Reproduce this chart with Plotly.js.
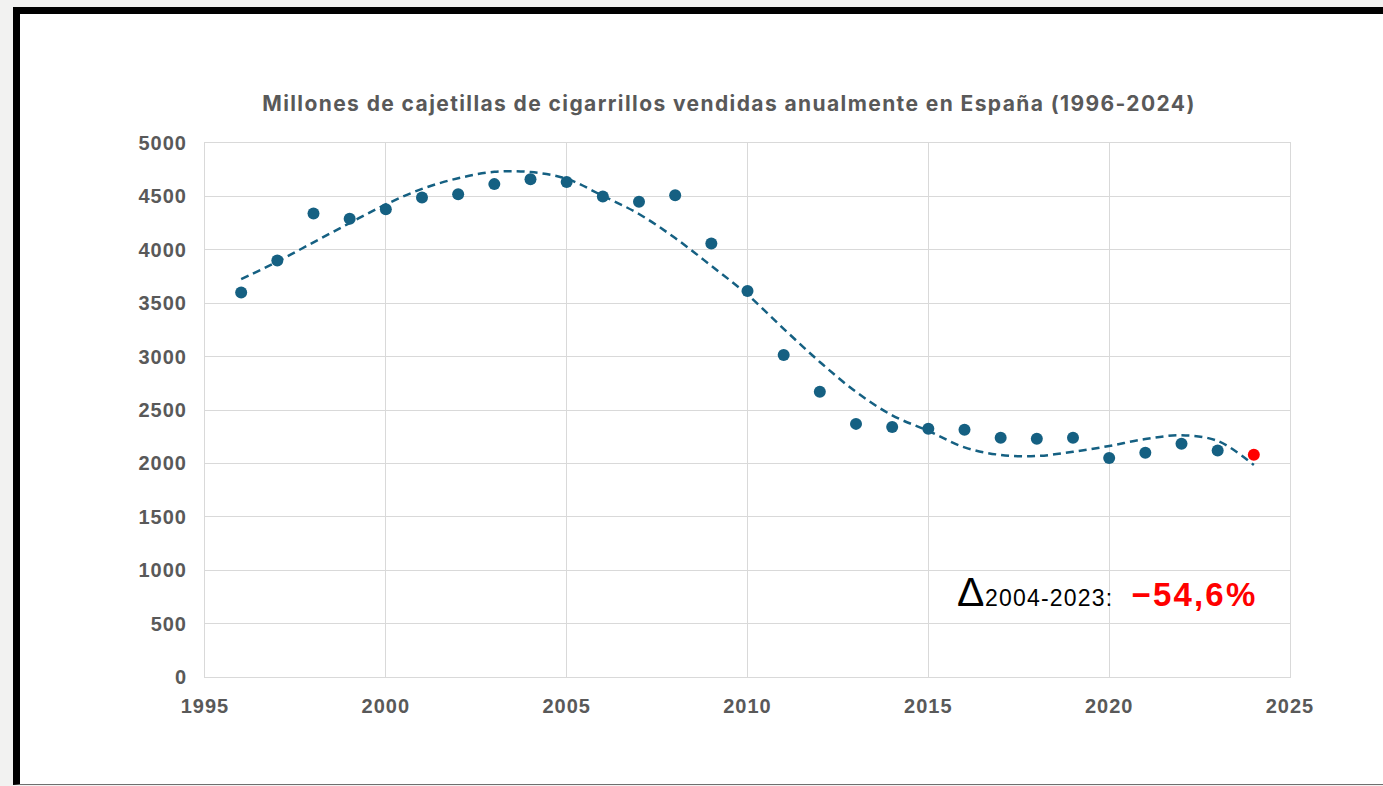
<!DOCTYPE html>
<html>
<head>
<meta charset="utf-8">
<script src="https://cdn.plot.ly/plotly-3.0.1.min.js"></script>
<style>
  html, body { margin: 0; padding: 0; background: #f2f2f1; width: 1383px; height: 786px; overflow: hidden; }
  #frame { position: absolute; left: 13px; top: 7px; width: 1370px; height: 778px; background: #ffffff;
           border-top: 7px solid #000; border-left: 7px solid #000; box-sizing: border-box; border-bottom: 1px solid #6f6f6f; }
  #chart { position: absolute; left: 0; top: 0; width: 1383px; height: 786px; }
  #chart .xtick text, #chart .ytick text { letter-spacing: 1px; }
  #chart .gtitle { letter-spacing: 1.4px; }
  #chart g.annotation[data-index="1"] text { letter-spacing: 1.2px; }
  #chart g.annotation[data-index="2"] text { letter-spacing: 2.2px; }
</style>
</head>
<body>
<div id="frame"></div>
<div id="chart"></div>
<script>
// Years and annual sales (millions of packs)
const years = [1996,1997,1998,1999,2000,2001,2002,2003,2004,2005,2006,2007,2008,2009,2010,
               2011,2012,2013,2014,2015,2016,2017,2018,2019,2020,2021,2022,2023];
const sales = [3600,3900,4340,4290,4380,4490,4520,4615,4660,4635,4500,4450,4510,4060,3615,
               3015,2670,2370,2340,2325,2315,2240,2230,2240,2050,2100,2185,2120];
// Latest year, highlighted
const lastYear = [2024];
const lastSales = [2080];
// Trend line, 1996-2024
const trendYears = [1996,1997,1998,1999,2000,2001,2002,2003,2004,2005,2006,2007,2008,2009,2010,
                    2011,2012,2013,2014,2015,2016,2017,2018,2019,2020,2021,2022,2023,2024];
const trendVals = [3725,3890,4070,4250,4425,4570,4670,4730,4728,4665,4505,4335,4110,3850,3580,
                   3260,2950,2670,2450,2305,2150,2079,2069,2109,2163,2228,2263,2210,1985];
// Tick labels
const xTicks = [1995,2000,2005,2010,2015,2020,2025];
const yTicks = [0,500,1000,1500,2000,2500,3000,3500,4000,4500,5000];

const titleText = 'Millones de cajetillas de cigarrillos vendidas anualmente en España (1996-2024)';
const deltaLabel = 'Δ';
const periodLabel = '2004-2023:';
const changeLabel = '\u221254,6%';

const teal = '#156082';
const grid = '#d9d9d9';
const tickCol = '#595959';

const traces = [
  { x: trendYears, y: trendVals, type: 'scatter', mode: 'lines',
    line: { color: teal, width: 2.5, dash: '8px,5px', shape: 'spline', smoothing: 1 },
    hoverinfo: 'skip', showlegend: false },
  { x: years, y: sales, type: 'scatter', mode: 'markers',
    marker: { color: teal, size: 12, line: { width: 0 } }, showlegend: false },
  { x: lastYear, y: lastSales, type: 'scatter', mode: 'markers',
    marker: { color: '#ff0000', size: 12, line: { width: 0 } }, showlegend: false }
];

const L = 205, R = 1290, T = 143, B = 677;
const px = v => (v - L) / (R - L);
const py = v => (B - v) / (B - T);
const tickFont = { family: '"Liberation Sans", Arial, sans-serif', size: 20, color: tickCol, weight: 'bold' };

const layout = {
  width: 1383, height: 786,
  margin: { l: L, r: 1383 - R, t: T, b: 786 - B, pad: 0 },
  paper_bgcolor: 'rgba(0,0,0,0)',
  plot_bgcolor: 'rgba(0,0,0,0)',
  showlegend: false,
  title: { text: titleText, font: { family: 'Inter, "Open Sans", sans-serif', size: 21, color: tickCol, weight: 'bold' },
           xref: 'paper', x: px(729), xanchor: 'center', yref: 'container', y: 1 - 104/786, yanchor: 'middle' },
  xaxis: { range: [1995, 2025], tickvals: xTicks, ticktext: xTicks.map(String),
           showgrid: true, gridcolor: grid, gridwidth: 1, zeroline: false,
           showline: true, linecolor: grid, linewidth: 1, mirror: true,
           ticks: 'outside', ticklen: 11, tickcolor: 'rgba(0,0,0,0)', tickfont: tickFont },
  yaxis: { range: [0, 5000], tickvals: yTicks, ticktext: yTicks.map(String),
           showgrid: true, gridcolor: grid, gridwidth: 1, zeroline: false,
           showline: true, linecolor: grid, linewidth: 1, mirror: true,
           ticks: 'outside', ticklen: 13, tickcolor: 'rgba(0,0,0,0)', tickfont: tickFont },
  annotations: [
    { text: deltaLabel, xref: 'paper', yref: 'paper', x: px(955), y: py(592), xanchor: 'left', yanchor: 'middle',
      showarrow: false, font: { family: '"Liberation Sans", Arial, sans-serif', size: 41, color: '#000' } },
    { text: periodLabel, xref: 'paper', yref: 'paper', x: px(989), y: py(598), xanchor: 'left', yanchor: 'middle',
      showarrow: false, font: { family: '"Liberation Sans", Arial, sans-serif', size: 23, color: '#000' } },
    { text: changeLabel, xref: 'paper', yref: 'paper', x: px(1136), y: py(594), xanchor: 'left', yanchor: 'middle',
      showarrow: false, font: { family: '"Liberation Sans", Arial, sans-serif', size: 33, color: '#ff0000', weight: 'bold' } }
  ]
};

Plotly.newPlot('chart', traces, layout, { displayModeBar: false, staticPlot: true });
</script>
</body>
</html>
